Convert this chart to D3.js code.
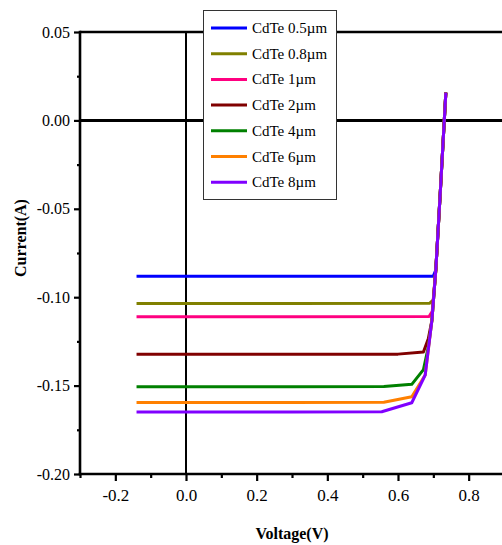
<!DOCTYPE html>
<html><head><meta charset="utf-8">
<script src="https://cdn.jsdelivr.net/npm/d3@7"></script>
<style>body{margin:0;background:#fff}svg{display:block}</style>
</head><body>
<svg id="c" width="502" height="545"></svg>
<script>
const seriesNames = ["CdTe 0.5\u00b5m","CdTe 0.8\u00b5m","CdTe 1\u00b5m","CdTe 2\u00b5m","CdTe 4\u00b5m","CdTe 6\u00b5m","CdTe 8\u00b5m"];
const seriesColors = ["#0000FF","#808000","#FF0080","#800000","#008000","#FF8000","#8000FF"];
const tail = [[0.707,-0.0846],[0.72,-0.0395],[0.7354,0.0157]];
const blue   = [[-0.14,-0.0882],[0.30,-0.0882],[0.700,-0.0881]].concat(tail);
const olive  = [[-0.14,-0.1035],[0.30,-0.1035],[0.690,-0.1034],[0.700,-0.1015]].concat(tail);
const pink   = [[-0.14,-0.1110],[0.30,-0.1110],[0.688,-0.1109],[0.697,-0.1080]].concat(tail);
const maroon = [[-0.14,-0.1323],[0.30,-0.1323],[0.600,-0.1322],[0.672,-0.1310],[0.686,-0.1233],[0.696,-0.1130]].concat(tail);
const green  = [[-0.14,-0.1506],[0.30,-0.1506],[0.560,-0.1505],[0.639,-0.1493],[0.672,-0.1410],[0.686,-0.1280],[0.696,-0.1130]].concat(tail);
const orange = [[-0.14,-0.1595],[0.30,-0.1595],[0.560,-0.1594],[0.639,-0.1563],[0.677,-0.1440],[0.696,-0.1130]].concat(tail);
const purple = [[-0.14,-0.1649],[0.30,-0.1649],[0.554,-0.1648],[0.639,-0.1597],[0.677,-0.1440],[0.696,-0.1130]].concat(tail);
const seriesData = [blue, olive, pink, maroon, green, orange, purple];
const yTicks = [0.05,0.00,-0.05,-0.10,-0.15,-0.20];
const yMinor = [0.025,-0.025,-0.075,-0.125,-0.175];
const xTicks = [-0.2,0.0,0.2,0.4,0.6,0.8];
const xMinor = [-0.3,-0.1,0.1,0.3,0.5,0.7];

const FF = '"Liberation Serif"';
const svg = d3.select("#c");
const x = d3.scaleLinear().domain([-0.3,0.9]).range([80,504]);
const y = d3.scaleLinear().domain([-0.20,0.05]).range([474,32]);
const fmt = p => d => d3.format(p)(d).replace("\u2212","-");

// reference lines
svg.append("line").attr("x1",x(-0.3)).attr("x2",502).attr("y1",y(0.05)).attr("y2",y(0.05)).attr("stroke","#000").attr("stroke-width",2.6);
svg.append("line").attr("x1",x(-0.3)).attr("x2",502).attr("y1",y(0)).attr("y2",y(0)).attr("stroke","#000").attr("stroke-width",3);
svg.append("line").attr("x1",x(0)).attr("x2",x(0)).attr("y1",y(0.05)).attr("y2",y(-0.2)).attr("stroke","#000").attr("stroke-width",2);

// series
const line = d3.line().x(d=>x(d[0])).y(d=>y(d[1]));
seriesData.forEach((s,i)=>{
  svg.append("path").datum(s).attr("d",line).attr("fill","none")
    .attr("stroke",seriesColors[i]).attr("stroke-width",3).attr("stroke-linejoin","round");
});

// left axis
const yAxis = d3.axisLeft(y).tickValues(yTicks).tickFormat(fmt(".2f")).tickSize(6).tickPadding(4);
const gy = svg.append("g").attr("transform",`translate(${x(-0.3)},0)`).call(yAxis);
const gyMinor = svg.append("g").attr("transform",`translate(${x(-0.3)},0)`).call(d3.axisLeft(y).tickValues(yMinor).tickFormat("").tickSize(3));
// bottom axis
const xAxis = d3.axisBottom(x).tickValues(xTicks).tickFormat(fmt(".1f")).tickSize(7).tickPadding(8);
const gx = svg.append("g").attr("transform",`translate(0,${y(-0.2)})`).call(xAxis);
const gxMinor = svg.append("g").attr("transform",`translate(0,${y(-0.2)})`).call(d3.axisBottom(x).tickValues(xMinor).tickFormat("").tickSize(4));
[gy,gyMinor,gx,gxMinor].forEach(g=>{
  g.attr("font-family",null).attr("font-size",null);
  g.select(".domain").remove();
  g.selectAll("line").attr("stroke","#000").attr("stroke-width",2.2);
  g.selectAll("text").style("font-family",FF).style("font-size","16px").attr("fill","#000");
});
gx.selectAll("text").style("font-size","17px");
svg.append("line").attr("x1",x(-0.3)).attr("x2",x(-0.3)).attr("y1",y(0.05)-1.3).attr("y2",y(-0.2)+1.3).attr("stroke","#000").attr("stroke-width",2.6);
svg.append("line").attr("x1",x(-0.3)-1.3).attr("x2",502).attr("y1",y(-0.2)).attr("y2",y(-0.2)).attr("stroke","#000").attr("stroke-width",2.6);

// axis titles
svg.append("text").attr("x",292).attr("y",539).attr("text-anchor","middle").style("font-family",FF)
  .style("font-weight","bold").style("font-size","16px").text("Voltage(V)");
svg.append("text").attr("transform","translate(26,238) rotate(-90)").attr("text-anchor","middle").style("font-family",FF)
  .style("font-weight","bold").style("font-size","16px").text("Current(A)");

// legend
const lg = svg.append("g");
lg.append("rect").attr("x",203.5).attr("y",10.5).attr("width",133).attr("height",189).attr("fill","#fff").attr("stroke","#333").attr("stroke-width",1);
seriesNames.forEach((n,i)=>{
  const yy = 28 + i*25.7;
  lg.append("line").attr("x1",211).attr("x2",247).attr("y1",yy).attr("y2",yy).attr("stroke",seriesColors[i]).attr("stroke-width",3);
  lg.append("text").attr("x",252).attr("y",yy+5).style("font-family",FF).style("font-size","15px").attr("fill","#000").text(n);
});
</script>
</body></html>
